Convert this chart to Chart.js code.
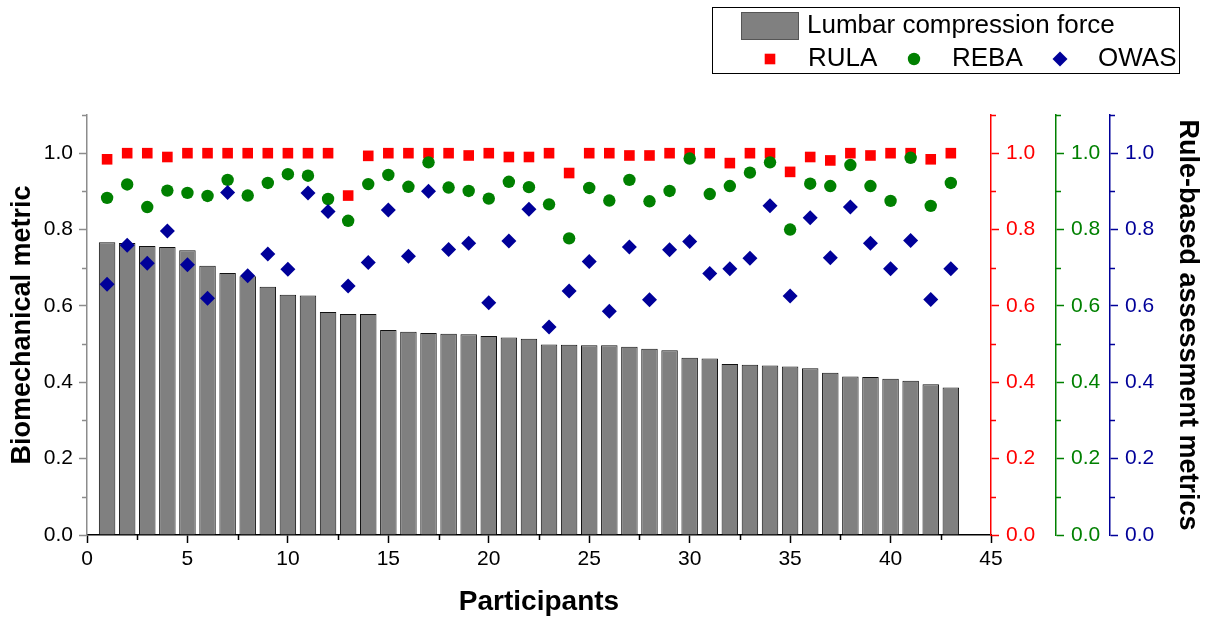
<!DOCTYPE html>
<html>
<head>
<meta charset="utf-8">
<script src="https://cdn.jsdelivr.net/npm/chart.js@4.4.1/dist/chart.umd.min.js"></script>
<style>
  html, body { margin: 0; padding: 0; background: #fff; }
  #wrap { width: 1205px; height: 619px; }
</style>
</head>
<body>
<div id="wrap"><canvas id="ergoChart" width="1205" height="619"></canvas></div>
<script>
// participants 1..43
const participants = Array.from({ length: 43 }, (_, i) => i + 1);

// normalised lumbar compression force (bars, left axis)
const lumbarForce = [
  0.767, 0.765, 0.757, 0.754, 0.746, 0.705, 0.686, 0.678, 0.650, 0.629,
  0.627, 0.584, 0.579, 0.579, 0.537, 0.532, 0.529, 0.527, 0.526, 0.521,
  0.517, 0.514, 0.499, 0.498, 0.497, 0.497, 0.493, 0.488, 0.484, 0.464,
  0.462, 0.448, 0.446, 0.444, 0.441, 0.437, 0.425, 0.415, 0.414, 0.409,
  0.404, 0.395, 0.386
];

// rule-based scores (right axes)
const rulaScores = [
  0.984, 1.000, 1.000, 0.990, 1.000, 1.000, 1.000, 1.000, 1.000, 1.000,
  1.000, 1.000, 0.889, 0.993, 1.000, 1.000, 1.000, 1.000, 0.994, 1.000,
  0.990, 0.990, 1.000, 0.948, 1.000, 1.000, 0.994, 0.994, 1.000, 1.000,
  1.000, 0.974, 1.000, 1.000, 0.951, 0.990, 0.981, 1.000, 0.994, 1.000,
  1.000, 0.984, 1.000
];
const rebaScores = [
  0.883, 0.918, 0.859, 0.902, 0.896, 0.888, 0.930, 0.889, 0.922, 0.945,
  0.941, 0.880, 0.823, 0.919, 0.943, 0.912, 0.976, 0.910, 0.901, 0.881,
  0.925, 0.911, 0.866, 0.777, 0.909, 0.876, 0.930, 0.874, 0.901, 0.986,
  0.893, 0.914, 0.949, 0.976, 0.800, 0.920, 0.914, 0.969, 0.914, 0.875,
  0.988, 0.862, 0.922
];
const owasScores = [
  0.657, 0.759, 0.712, 0.796, 0.708, 0.620, 0.897, 0.679, 0.736, 0.696,
  0.896, 0.847, 0.652, 0.714, 0.851, 0.730, 0.900, 0.748, 0.764, 0.608,
  0.770, 0.853, 0.545, 0.639, 0.716, 0.586, 0.754, 0.616, 0.747, 0.769,
  0.685, 0.697, 0.725, 0.862, 0.626, 0.831, 0.726, 0.859, 0.764, 0.697,
  0.771, 0.617, 0.697
];

const yTicks = [0, 0.2, 0.4, 0.6, 0.8, 1.0];
const yMinorTicks = [0.1, 0.3, 0.5, 0.7, 0.9, 1.1];
const xMinorTicks = [2.5, 7.5, 12.5, 17.5, 22.5, 27.5, 32.5, 37.5, 42.5];

const FONT = "'Liberation Sans', Arial, sans-serif";
const RED = '#ff0000', GREEN = '#008000', BLUE = '#000099', GREY_AXIS = '#8c8c8c';

const toXY = arr => arr.map((v, i) => ({ x: participants[i], y: v }));

function rightAxis(color, weight, width, title) {
  return {
    type: 'linear',
    position: 'right',
    weight: weight,
    min: 0,
    max: 1.1,
    afterBuildTicks: s => { s.ticks = yTicks.map(v => ({ value: v })); },
    afterFit: s => { s.width = width; },
    border: { display: true, color: color, width: 1.5 },
    grid: { drawOnChartArea: false, drawTicks: true, tickLength: 8, color: color, tickWidth: 1.5 },
    ticks: { color: color, padding: 7, font: { family: FONT, size: 21 }, callback: v => v.toFixed(1) },
    title: title ? {
      display: true, text: title, color: '#000',
      font: { family: FONT, size: 27, weight: 'bold' }, padding: { top: 1, bottom: 0 }
    } : { display: false }
  };
}

// minor tick marks, drawn outward from each axis line
const minorTicks = {
  id: 'minorTicks',
  afterDraw(chart) {
    const ctx = chart.ctx;
    ctx.save();
    const x = chart.scales.x;
    ctx.strokeStyle = '#000';
    ctx.lineWidth = 1.5;
    xMinorTicks.forEach(v => {
      const px = Math.round(x.getPixelForValue(v)) + 0.5;
      ctx.beginPath(); ctx.moveTo(px, x.top); ctx.lineTo(px, x.top + 5); ctx.stroke();
    });
    [['y', GREY_AXIS, -1], ['yR', RED, 1], ['yG', GREEN, 1], ['yB', BLUE, 1]].forEach(([id, col, dir]) => {
      const s = chart.scales[id];
      const edge = dir < 0 ? s.right : s.left;
      ctx.strokeStyle = col;
      yMinorTicks.forEach(v => {
        const py = Math.round(s.getPixelForValue(v)) + 0.5;
        ctx.beginPath(); ctx.moveTo(edge, py); ctx.lineTo(edge + dir * 5, py); ctx.stroke();
      });
    });
    ctx.restore();
  }
};

// boxed legend in the top right corner
const boxLegend = {
  id: 'boxLegend',
  afterDraw(chart) {
    const ctx = chart.ctx;
    const ds = chart.data.datasets;
    ctx.save();
    ctx.strokeStyle = '#000';
    ctx.lineWidth = 1;
    ctx.strokeRect(712.5, 7.5, 467, 66);

    ctx.fillStyle = ds[0].backgroundColor;
    ctx.fillRect(741, 12, 58, 28);
    ctx.strokeStyle = '#555';
    ctx.strokeRect(741.5, 12.5, 57, 27);

    ctx.fillStyle = '#000';
    ctx.font = '26px ' + FONT;
    ctx.textBaseline = 'middle';
    ctx.textAlign = 'left';
    ctx.fillText(ds[0].label, 807, 26);

    const row = [[770, 808], [914, 952], [1060, 1098]];
    [1, 2, 3].forEach((k, j) => {
      const d = ds[k];
      ctx.fillStyle = d.backgroundColor;
      Chart.helpers.drawPoint(ctx, {
        pointStyle: d.pointStyle, radius: d.pointRadius, rotation: 0, borderWidth: 0
      }, row[j][0], 59);
      ctx.fillStyle = '#000';
      ctx.fillText(d.label, row[j][1], 59);
    });
    ctx.restore();
  }
};

new Chart(document.getElementById('ergoChart'), {
  type: 'scatter',
  data: {
    datasets: [
      {
        type: 'bar',
        label: 'Lumbar compression force',
        data: toXY(lumbarForce),
        yAxisID: 'y',
        backgroundColor: '#808080',
        borderColor: '#111',
        borderWidth: 1,
        barPercentage: 0.82,
        categoryPercentage: 1,
        order: 4
      },
      {
        label: 'RULA',
        data: toXY(rulaScores),
        yAxisID: 'yR',
        pointStyle: 'rect',
        pointRadius: 7.5,
        backgroundColor: RED,
        borderWidth: 0,
        order: 3
      },
      {
        label: 'REBA',
        data: toXY(rebaScores),
        yAxisID: 'yG',
        pointStyle: 'circle',
        pointRadius: 6.2,
        backgroundColor: GREEN,
        borderWidth: 0,
        order: 2
      },
      {
        label: 'OWAS',
        data: toXY(owasScores),
        yAxisID: 'yB',
        pointStyle: 'rectRot',
        pointRadius: 7.5,
        backgroundColor: BLUE,
        borderWidth: 0,
        order: 1
      }
    ]
  },
  options: {
    responsive: false,
    animation: false,
    events: [],
    layout: { padding: { top: 115, left: 0, right: 0, bottom: 0 } },
    plugins: { legend: { display: false }, tooltip: { enabled: false } },
    scales: {
      x: {
        type: 'linear',
        min: 0,
        max: 45,
        offset: false,
        afterFit: s => { s.height = 84; },
        border: { display: true, color: '#000', width: 1.5 },
        grid: { drawOnChartArea: false, drawTicks: true, tickLength: 8, color: '#000', tickWidth: 1.5, offset: false },
        ticks: { stepSize: 5, color: '#000', padding: 4, maxRotation: 0, font: { family: FONT, size: 21 } },
        title: {
          display: true, text: 'Participants', color: '#000',
          font: { family: FONT, size: 28, weight: 'bold' }, padding: { top: 0, bottom: 0 }
        }
      },
      y: {
        type: 'linear',
        position: 'left',
        min: 0,
        max: 1.1,
        afterBuildTicks: s => { s.ticks = yTicks.map(v => ({ value: v })); },
        afterFit: s => { s.width = 87; },
        border: { display: true, color: GREY_AXIS, width: 1.5 },
        grid: { drawOnChartArea: false, drawTicks: true, tickLength: 8, color: GREY_AXIS, tickWidth: 1.5 },
        ticks: { color: '#000', padding: 6, font: { family: FONT, size: 21 }, callback: v => v.toFixed(1) },
        title: {
          display: true, text: 'Biomechanical metric', color: '#000',
          font: { family: FONT, size: 27, weight: 'bold' }, padding: { top: 6, bottom: 0 }
        }
      },
      yR: rightAxis(RED, 1, 65, null),
      yG: rightAxis(GREEN, 2, 54, null),
      yB: rightAxis(BLUE, 3, 95, 'Rule-based assessment metrics')
    }
  },
  plugins: [minorTicks, boxLegend]
});
</script>
</body>
</html>
